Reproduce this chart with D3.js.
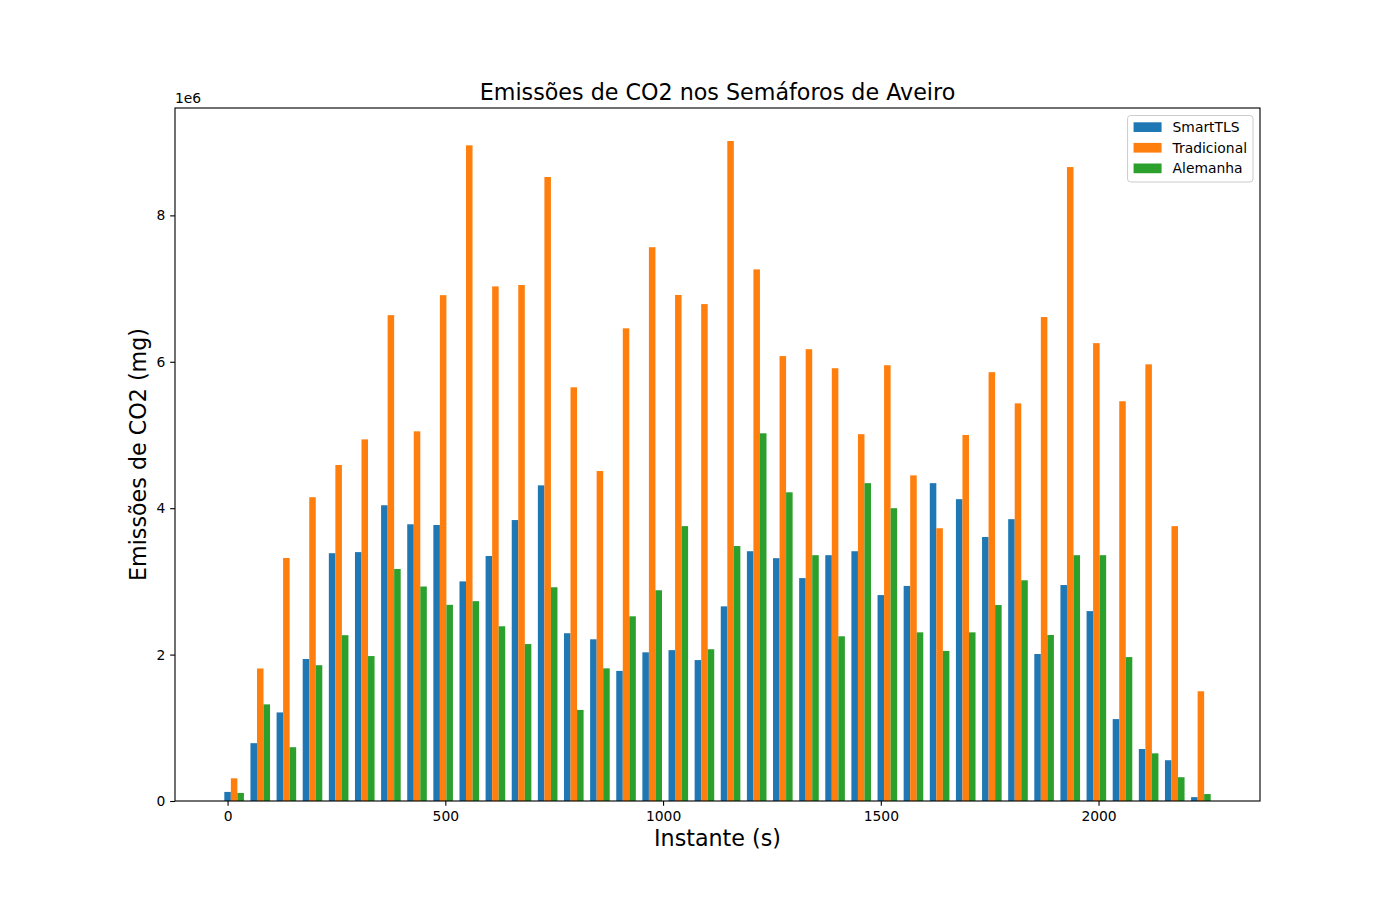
<!DOCTYPE html>
<html>
<head>
<meta charset="utf-8">
<script src="https://cdn.jsdelivr.net/npm/d3@7"></script>
<style>
  body { margin: 0; background: #fff; }
  svg { font-family: "DejaVu Sans", sans-serif; }
</style>
</head>
<body>
<div id="chart"></div>
<script>
// instantes (s) de cada grupo de barras
var instantes = [0, 60, 120, 180, 240, 300, 360, 420, 480, 540, 600, 660, 720, 780, 840, 900, 960, 1020, 1080,
    1140, 1200, 1260, 1320, 1380, 1440, 1500, 1560, 1620, 1680, 1740, 1800, 1860, 1920, 1980, 2040, 2100, 2160, 2220]

// emissoes de CO2 (mg)
var smartTLS = [124000, 790000, 1210000, 1940000, 3385000, 3400000, 4040000, 3780000, 3770000, 3000000,
    3347000, 3838000, 4312000, 2292000, 2209000, 1777000, 2031000, 2061000, 1925000, 2659000,
    3412000, 3317000, 3045000, 3358000, 3412000, 2813000, 2938000, 4342000, 4123000, 3607000,
    3850000, 2008000, 2950000, 2594000, 1119000, 710000, 557000, 53000]
var tradicional = [310000, 1810000, 3320000, 4150000, 4590000, 4940000, 6637000, 5050000, 6910000, 8957000,
    7030000, 7049000, 8524000, 5651000, 4508000, 6457000, 7565000, 6913000, 6788000, 9016000,
    7262000, 6078000, 6172000, 5912000, 5011000, 5953000, 4448000, 3726000, 5000000, 5858000,
    5432000, 6611000, 8660000, 6255000, 5461000, 5965000, 3755000, 1499000]
var alemanha = [110000, 1320000, 735000, 1855000, 2265000, 1980000, 3170000, 2930000, 2680000, 2730000,
    2387000, 2144000, 2920000, 1244000, 1812000, 2523000, 2879000, 3755000, 2073000, 3483000,
    5023000, 4217000, 3358000, 2250000, 4342000, 4000000, 2304000, 2050000, 2304000, 2677000,
    3015000, 2268000, 3358000, 3358000, 1966000, 651000, 325000, 95000]

var series = ['SmartTLS', 'Tradicional', 'Alemanha']
var xTicks = [0, 500, 1000, 1500, 2000]
var yTicks = [0, 2000000, 4000000, 6000000, 8000000]

var W = 1400, H = 900
var mLeft = 175, mRight = 1260, mTop = 108, mBottom = 801
var barW = 15
var colors = ['#1f77b4', '#ff7f0e', '#2ca02c']
var pt = 1.389 // px per point

var svg = d3.select('#chart').append('svg').attr('width', W).attr('height', H)

// dominio como o matplotlib: margem de 5%
var xmin = d3.min(instantes) - barW / 2
var xmax = d3.max(instantes) + 2 * barW + barW / 2
var pad = (xmax - xmin) * 0.05
var x = d3.scaleLinear().domain([xmin - pad, xmax + pad]).range([mLeft, mRight])
var ymax = d3.max([d3.max(smartTLS), d3.max(tradicional), d3.max(alemanha)])
var y = d3.scaleLinear().domain([0, ymax * 1.05]).range([mBottom, mTop])

var data = [smartTLS, tradicional, alemanha]
data.forEach(function(vals, s) {
    svg.append('g')
        .attr('fill', colors[s])
        .selectAll('rect')
        .data(vals)
        .enter()
        .append('rect')
        .attr('x', (d, i) => x(instantes[i] + s * barW - barW / 2))
        .attr('width', (d, i) => x(instantes[i] + s * barW + barW / 2) - x(instantes[i] + s * barW - barW / 2))
        .attr('y', d => y(d))
        .attr('height', d => y(0) - y(d))
})

// eixos
var xAxis = svg.append('g')
    .attr('transform', 'translate(0,' + mBottom + ')')
    .call(d3.axisBottom(x).tickValues(xTicks).tickSize(3.5 * pt).tickPadding(3.5 * pt).tickFormat(d3.format('d')))
var yAxis = svg.append('g')
    .attr('transform', 'translate(' + mLeft + ',0)')
    .call(d3.axisLeft(y).tickValues(yTicks).tickSize(3.5 * pt).tickPadding(3.5 * pt).tickFormat(d => d / 1e6))
;[xAxis, yAxis].forEach(function(a) {
    a.select('.domain').remove()
    a.selectAll('line').attr('stroke', '#000').attr('stroke-width', 0.8 * pt)
    a.selectAll('text').attr('font-size', 10 * pt).attr('fill', '#000').attr('font-family', 'DejaVu Sans')
})

svg.append('rect')
    .attr('x', mLeft).attr('y', mTop)
    .attr('width', mRight - mLeft).attr('height', mBottom - mTop)
    .attr('fill', 'none').attr('stroke', '#000').attr('stroke-width', 0.8 * pt)

// offset
svg.append('text').attr('x', mLeft).attr('y', mTop - 5)
    .attr('font-size', 10 * pt).text('1e6')

// titulos
svg.append('text')
    .attr('x', (mLeft + mRight) / 2).attr('y', mTop - 8)
    .attr('text-anchor', 'middle').attr('font-size', 16 * pt)
    .text('Emissões de CO2 nos Semáforos de Aveiro')
svg.append('text')
    .attr('x', (mLeft + mRight) / 2).attr('y', 846)
    .attr('text-anchor', 'middle').attr('font-size', 16 * pt)
    .text('Instante (s)')
svg.append('text')
    .attr('transform', 'translate(146,' + (mTop + mBottom) / 2 + ') rotate(-90)')
    .attr('text-anchor', 'middle').attr('font-size', 16 * pt)
    .text('Emissões de CO2 (mg)')

// legenda
var legend = svg.append('g')
var box = legend.append('rect')
var items = legend.selectAll('g.item')
    .data(series)
    .enter()
    .append('g')
    .attr('class', 'item')
items.append('rect')
    .attr('width', 28).attr('height', 9.7)
    .attr('fill', (d, i) => colors[i])
var labels = items.append('text')
    .attr('x', 39).attr('y', 9.7)
    .attr('font-size', 10 * pt)
    .text(d => d)
var maxW = 0
labels.each(function() { maxW = Math.max(maxW, this.getComputedTextLength()) })
var boxW = 6 + 28 + 11 + maxW + 6
var boxX = mRight - 7 - boxW
items.attr('transform', (d, i) => 'translate(' + (boxX + 6) + ',' + (122.3 + i * 20.6) + ')')
box.attr('x', boxX).attr('y', 115.5)
    .attr('width', boxW).attr('height', 66.5)
    .attr('rx', 3)
    .attr('fill', '#fff').attr('fill-opacity', 0.8)
    .attr('stroke', '#cccccc').attr('stroke-width', 1)
</script>
</body>
</html>
